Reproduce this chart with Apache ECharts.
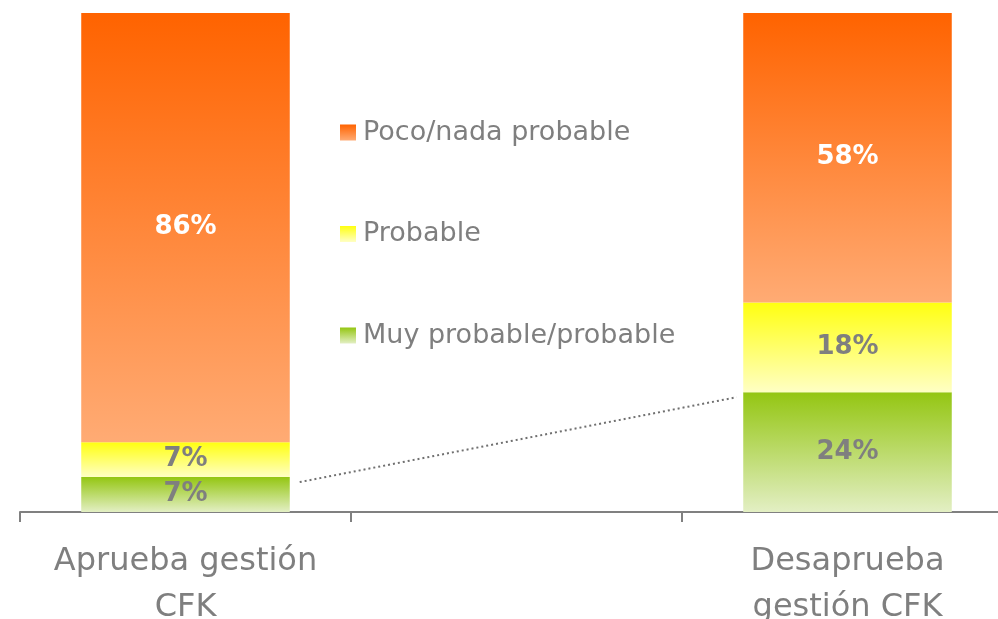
<!DOCTYPE html>
<html>
<head>
<meta charset="utf-8">
<script src="https://cdn.jsdelivr.net/npm/echarts@6/dist/echarts.min.js"></script>
<style>
  html, body { margin: 0; padding: 0; background: #fff; }
  #chart { width: 998px; height: 619px; }
</style>
</head>
<body>
<div id="chart"></div>
<script>
// categories (middle slot is empty, legend sits there)
var categories = ['Aprueba gestión\nCFK', '', 'Desaprueba\ngestión CFK'];
var seriesNames = ['Muy probable/probable', 'Probable', 'Poco/nada probable'];
var muyProbable = [7, null, 24];
var probable = [7, null, 18];
var pocoNada = [86, null, 58];

var gray = '#7f7f7f';
var font = 'DejaVu Sans';
var barWidthRatio = 0.63;

function grad(top, bottom) {
    return new echarts.graphic.LinearGradient(0, 0, 0, 1, [
        { offset: 0, color: top },
        { offset: 1, color: bottom }
    ]);
}

function barSeries(name, data, color, labelColor) {
    return {
        name: name,
        type: 'bar',
        stack: 'total',
        barWidth: (barWidthRatio * 100) + '%',
        data: data,
        itemStyle: { color: color },
        label: {
            show: true,
            position: 'inside',
            formatter: '{c}%',
            color: labelColor,
            fontFamily: font,
            fontWeight: 'bold',
            fontSize: 26
        },
        emphasis: { disabled: true }
    };
}

// dotted connector between the two green segments
var half = barWidthRatio / 2;
var connector = [
    [0.5 + half + 0.03, muyProbable[0] - 1],
    [2.5 - half - 0.02, muyProbable[2] - 1]
];

var chart = echarts.init(document.getElementById('chart'));
chart.setOption({
    animation: false,
    grid: { left: 20, width: 993, top: 13, bottom: 107, containLabel: false, outerBoundsMode: 'none' },
    legend: {
        data: ['Poco/nada probable', 'Probable', 'Muy probable/probable'],
        orient: 'vertical',
        left: 340,
        top: 119,
        padding: 0,
        itemWidth: 16,
        itemHeight: 16,
        itemGap: 74.5,
        icon: 'rect',
        textStyle: { color: gray, fontFamily: font, fontSize: 27, lineHeight: 16, padding: [0, 0, 0, 2] }
    },
    xAxis: [{
        type: 'category',
        data: categories,
        axisLine: { lineStyle: { color: '#808080', width: 2 } },
        axisTick: { show: true, length: 10, lineStyle: { color: '#808080', width: 2 } },
        axisLabel: {
            interval: 0,
            color: gray,
            fontFamily: font,
            fontSize: 32,
            lineHeight: 46,
            margin: 27
        }
    }, {
        type: 'value',
        min: 0,
        max: 3,
        show: false
    }],
    yAxis: {
        type: 'value',
        min: 0,
        max: 100,
        show: false
    },
    series: [
        barSeries(seriesNames[0], muyProbable, grad('#94c612', '#e3efc4'), gray),
        barSeries(seriesNames[1], probable, grad('#ffff10', '#ffffc4'), gray),
        barSeries(seriesNames[2], pocoNada, grad('#ff6300', '#ffab74'), '#ffffff'),
        {
            type: 'line',
            xAxisIndex: 1,
            data: connector,
            symbol: 'none',
            lineStyle: { color: '#707070', width: 2, type: [2, 3] },
            silent: true
        }
    ]
});
</script>
</body>
</html>
